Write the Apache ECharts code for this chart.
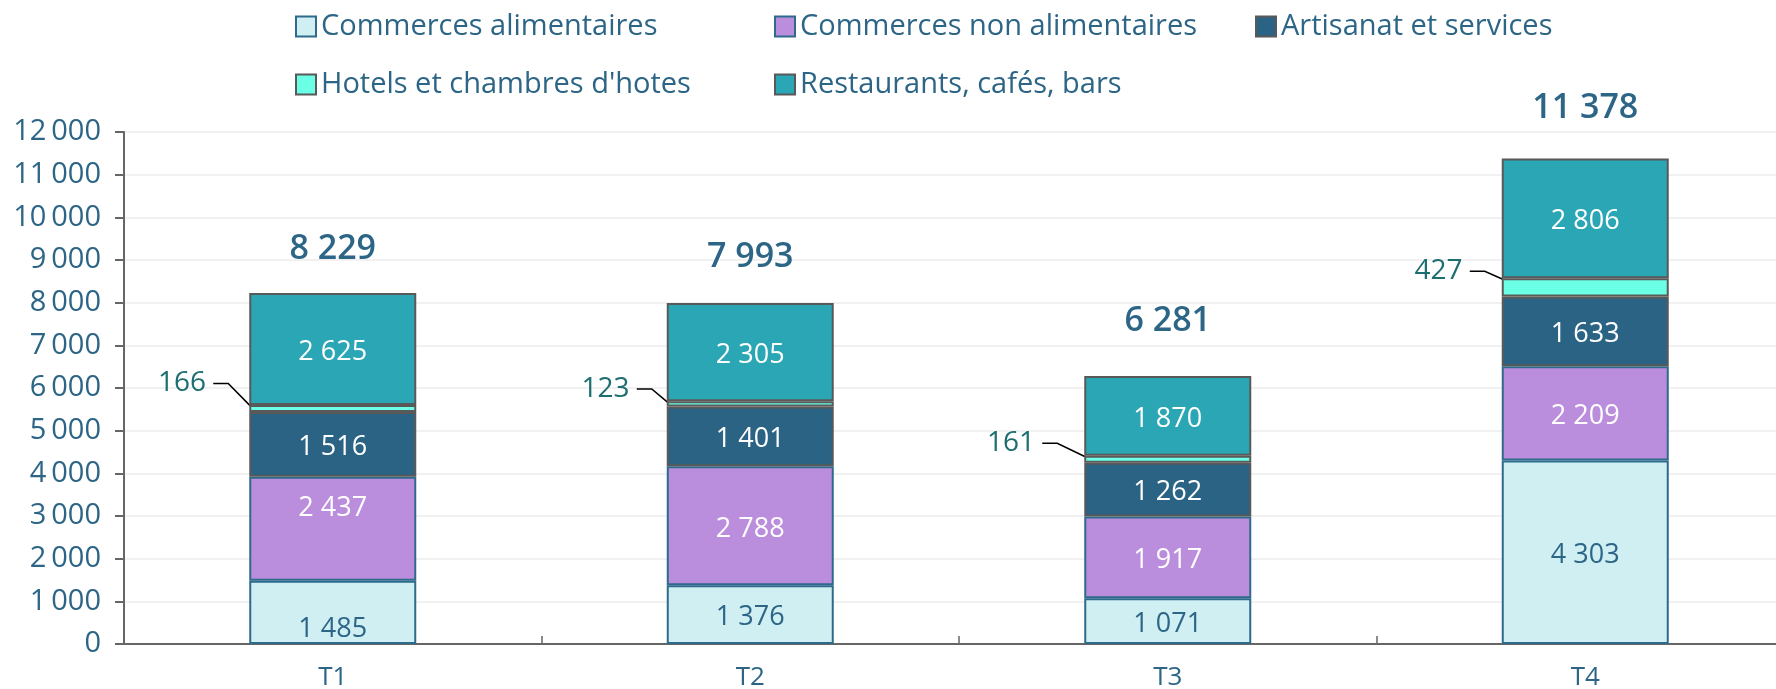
<!DOCTYPE html>
<html>
<head>
<meta charset="utf-8">
<script src="https://cdn.jsdelivr.net/npm/echarts@6/dist/echarts.min.js"></script>
<style>
    html, body {margin: 0; padding: 0; background: #fff;}
    #chart_1 {width: 1776px; height: 689px;}
</style>
</head>
<body>
<div id="chart_1"></div>
<script>
// données
var categories = ['T1', 'T2', 'T3', 'T4'];
var alimentaires = [1485, 1376, 1071, 4303];
var nonAlimentaires = [2437, 2788, 1917, 2209];
var artisanat = [1516, 1401, 1262, 1633];
var hotels = [166, 123, 161, 427];
var restaurants = [2625, 2305, 1870, 2806];
var totals = [8229, 7993, 6281, 11378];

var FONT = 'Open Sans';
var BLUE_TEXT = '#2c6586';

// petits décalages d'étiquettes (comme dans l'original)
var hotelShift = [[0, -25], [6, -15], [-6, -16], [4, -16]];
var totalShift = [2, 0, -9, -4];

function fmt(v) {
    return String(v).replace(/\B(?=(\d{3})+(?!\d))/g, ' ');
}

function insideLabel(color) {
    return {
        show: true,
        position: 'inside',
        color: color,
        fontFamily: FONT,
        fontSize: 27,
        offset: [0, 3],
        formatter: function (p) { return fmt(p.value); }
    };
}

var series = [
    {
        name: 'Commerces alimentaires',
        type: 'bar',
        stack: 'total',
        barWidth: '40%',
        itemStyle: {color: '#d0eff3', borderColor: '#2d6a8b', borderWidth: 2},
        label: insideLabel(BLUE_TEXT),
        data: alimentaires.map(function (v, i) {
            return i === 0 ? {value: v, label: {offset: [0, 17]}} : v;
        })
    },
    {
        name: 'Commerces non alimentaires',
        type: 'bar',
        stack: 'total',
        itemStyle: {color: '#bb8edd', borderColor: '#2d6a8b', borderWidth: 2},
        label: insideLabel('#ffffff'),
        data: nonAlimentaires.map(function (v, i) {
            return i === 0 ? {value: v, label: {offset: [0, -20]}} : v;
        })
    },
    {
        name: 'Artisanat et services',
        type: 'bar',
        stack: 'total',
        itemStyle: {color: '#2b6385', borderColor: '#595959', borderWidth: 2},
        label: insideLabel('#ffffff'),
        data: artisanat
    },
    {
        name: "Hotels et chambres d'hotes",
        type: 'bar',
        stack: 'total',
        itemStyle: {color: '#6bffe6', borderColor: '#595959', borderWidth: 2},
        label: {
            show: true,
            position: 'left',
            distance: 36,
            color: '#1c6e6f',
            fontFamily: FONT,
            fontSize: 28,
            // espace final : écart entre le nombre et le trait de rappel
            formatter: function (p) { return fmt(p.value) + ' '; }
        },
        labelLine: {
            show: true,
            length2: 15,
            lineStyle: {color: '#000', width: 1.5}
        },
        labelLayout: function (p) {
            var s = hotelShift[p.dataIndex];
            return {dx: s[0], dy: s[1]};
        },
        data: hotels
    },
    {
        name: 'Restaurants, cafés, bars',
        type: 'bar',
        stack: 'total',
        itemStyle: {color: '#2aa6b4', borderColor: '#595959', borderWidth: 2},
        label: insideLabel('#ffffff'),
        data: restaurants
    },
    {
        name: 'Total',
        type: 'line',
        symbol: 'circle',
        symbolSize: 2,
        itemStyle: {color: 'rgba(0,0,0,0)'},
        lineStyle: {width: 0, color: 'rgba(0,0,0,0)'},
        label: {
            show: true,
            position: 'top',
            distance: 28,
            color: BLUE_TEXT,
            fontFamily: FONT,
            fontSize: 34,
            fontWeight: 600,
            formatter: function (p) { return fmt(p.value); }
        },
        labelLayout: function (p) {
            return {dy: totalShift[p.dataIndex]};
        },
        z: 5,
        data: totals
    }
];

// légende : une par élément pour reproduire la grille 3 + 2
var legendPos = [
    [295, 12], [774, 12], [1255, 12],
    [295, 70], [774, 70]
];
var legends = [];
for (var k = 0; k < 5; k++) {
    legends.push({
        data: [series[k].name],
        left: legendPos[k][0],
        top: legendPos[k][1],
        padding: 0,
        icon: 'rect',
        itemWidth: 20,
        itemHeight: 20,
        itemGap: 8,
        selectedMode: false,
        textStyle: {color: BLUE_TEXT, fontFamily: FONT, fontSize: 29}
    });
}

var myChart = echarts.init(document.getElementById('chart_1'));
var option = {
    animation: false,
    legend: legends,
    grid: {
        left: 124,
        width: 1670,
        top: 132,
        bottom: 45,
        containLabel: false,
        outerBoundsMode: 'none'
    },
    xAxis: {
        type: 'category',
        data: categories,
        axisLine: {lineStyle: {color: '#666', width: 2}},
        axisTick: {show: true, inside: true, length: 8, lineStyle: {color: '#666', width: 1.5}},
        axisLabel: {color: BLUE_TEXT, fontFamily: FONT, fontSize: 26, margin: 21}
    },
    yAxis: {
        type: 'value',
        min: 0,
        max: 12000,
        interval: 1000,
        axisLine: {show: true, lineStyle: {color: '#666', width: 2}},
        axisTick: {show: true, length: 9, lineStyle: {color: '#666', width: 2}},
        splitLine: {lineStyle: {color: '#ececec', width: 1.5}},
        axisLabel: {
            color: BLUE_TEXT,
            fontFamily: FONT,
            fontSize: 29,
            margin: 23,
            formatter: function (v) { return String(v).replace(/\B(?=(\d{3})+(?!\d))/g, '\u2009'); }
        }
    },
    series: series
};

myChart.setOption(option);
</script>
</body>
</html>
